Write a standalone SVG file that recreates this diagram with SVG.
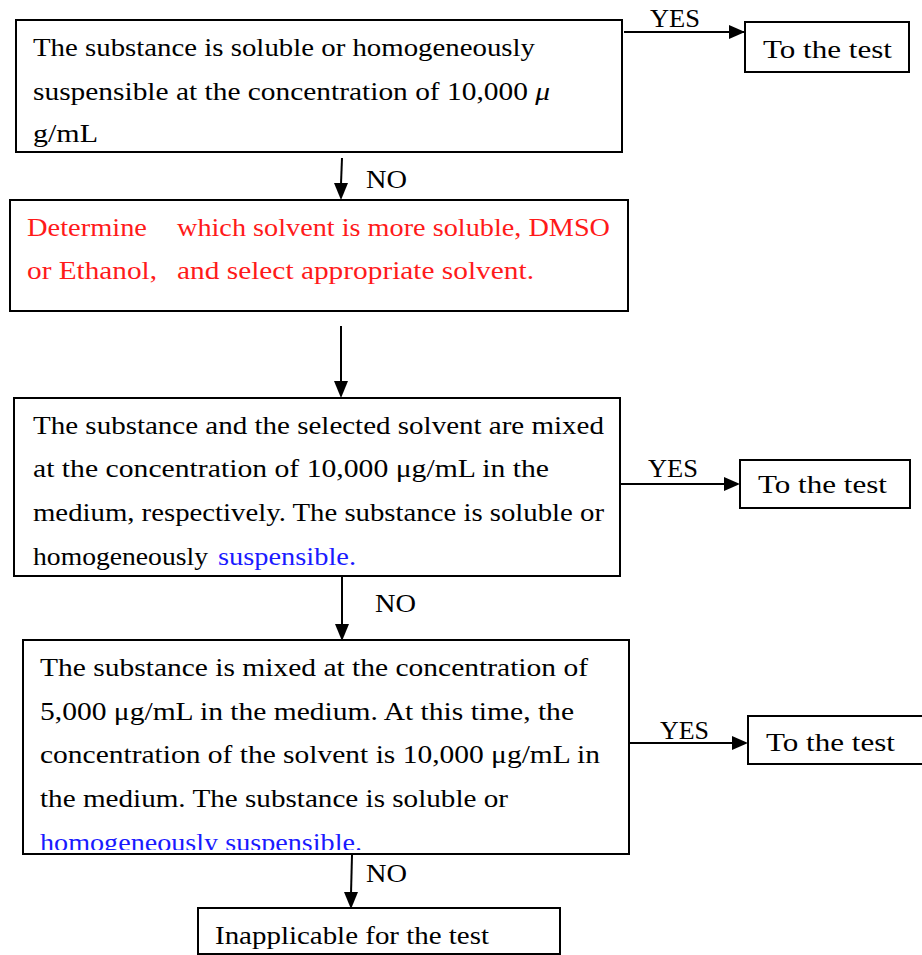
<svg xmlns="http://www.w3.org/2000/svg" width="922" height="955" viewBox="0 0 922 955">
<defs>
<style>
.box{fill:#fff;stroke:#000;stroke-width:2}
.t{font-family:"Liberation Serif",serif;font-size:26px;fill:#000}
.red{fill:#ff1a1a}
.blue{fill:#1a1aff}
.lbl{font-family:"Liberation Serif",serif;font-size:25px;fill:#000}
.c{stroke:#000;stroke-width:2;fill:none;marker-end:url(#ah)}
</style>
<marker id="ah" markerWidth="8" markerHeight="8" refX="8" refY="4" orient="auto" markerUnits="userSpaceOnUse" viewBox="0 0 8 8">
<path d="M0,0 L8,4 L0,8 Z" fill="#000"/>
</marker>
<clipPath id="clip4"><rect x="23" y="640" width="606" height="210"/></clipPath>
</defs>
<rect width="922" height="955" fill="#fff"/>

<g id="connectors">
<line class="c" x1="624" y1="32" x2="745" y2="32" style="marker-end:none"/>
<path d="M729,25 L745,32 L729,39 Z"/>
<line x1="342" y1="158" x2="341" y2="184" stroke="#000" stroke-width="2"/>
<path d="M334,183 L348,183 L341,200 Z"/>
<line x1="341" y1="326" x2="341" y2="382" stroke="#000" stroke-width="2"/>
<path d="M334,381 L348,381 L341,398 Z"/>
<line x1="621" y1="484" x2="726" y2="484" stroke="#000" stroke-width="2"/>
<path d="M724,477 L740,484 L724,491 Z"/>
<line x1="342" y1="576" x2="342" y2="626" stroke="#000" stroke-width="2"/>
<path d="M335,624 L349,624 L342,641 Z"/>
<line x1="629" y1="743" x2="734" y2="743" stroke="#000" stroke-width="2"/>
<path d="M732,736 L748,743 L732,750 Z"/>
<line x1="352" y1="855" x2="351" y2="894" stroke="#000" stroke-width="2"/>
<path d="M344,892 L358,892 L351,909 Z"/>
<text class="lbl" x="650" y="27" textLength="50" lengthAdjust="spacingAndGlyphs">YES</text>
<text class="lbl" x="366" y="188" textLength="41" lengthAdjust="spacingAndGlyphs">NO</text>
<text class="lbl" x="648" y="477" textLength="50" lengthAdjust="spacingAndGlyphs">YES</text>
<text class="lbl" x="375" y="612" textLength="41" lengthAdjust="spacingAndGlyphs">NO</text>
<text class="lbl" x="660" y="739" textLength="49" lengthAdjust="spacingAndGlyphs">YES</text>
<text class="lbl" x="366" y="882" textLength="41" lengthAdjust="spacingAndGlyphs">NO</text>
</g>

<g id="n1">
<rect class="box" x="16" y="20" width="606" height="132"/>
<text class="t" x="33" y="56" textLength="502" lengthAdjust="spacingAndGlyphs">The substance is soluble or homogeneously</text>
<text class="t" x="33" y="100" textLength="517" lengthAdjust="spacingAndGlyphs">suspensible at the concentration of 10,000 <tspan font-style="italic">μ</tspan></text>
<text class="t" x="33" y="142" textLength="65" lengthAdjust="spacingAndGlyphs">g/mL</text>
</g>

<g id="t1">
<rect class="box" x="745" y="22" width="164" height="50"/>
<text class="t" x="763" y="58" textLength="129" lengthAdjust="spacingAndGlyphs">To the test</text>
</g>

<g id="n2">
<rect class="box" x="10" y="200" width="618" height="111"/>
<text class="t red" x="27" y="236" textLength="120" lengthAdjust="spacingAndGlyphs">Determine</text>
<text class="t red" x="177" y="236" textLength="433" lengthAdjust="spacingAndGlyphs">which solvent is more soluble, DMSO</text>
<text class="t red" x="27" y="279" textLength="130" lengthAdjust="spacingAndGlyphs">or Ethanol,</text>
<text class="t red" x="177" y="279" textLength="357" lengthAdjust="spacingAndGlyphs">and select appropriate solvent.</text>
</g>

<g id="n3">
<rect class="box" x="14" y="398" width="606" height="178"/>
<text class="t" x="33" y="434" textLength="571" lengthAdjust="spacingAndGlyphs">The substance and the selected solvent are mixed</text>
<text class="t" x="33" y="477" textLength="516" lengthAdjust="spacingAndGlyphs">at the concentration of 10,000 μg/mL in the</text>
<text class="t" x="33" y="521" textLength="571" lengthAdjust="spacingAndGlyphs">medium, respectively. The substance is soluble or</text>
<text class="t" x="33" y="565" textLength="175" lengthAdjust="spacingAndGlyphs">homogeneously</text>
<text class="t blue" x="218" y="565" textLength="138" lengthAdjust="spacingAndGlyphs">suspensible.</text>
</g>

<g id="t2">
<rect class="box" x="740" y="460" width="170" height="48"/>
<text class="t" x="758" y="493" textLength="129" lengthAdjust="spacingAndGlyphs">To the test</text>
</g>

<g id="n4">
<rect class="box" x="23" y="640" width="606" height="214"/>
<text class="t" x="40" y="676" textLength="548" lengthAdjust="spacingAndGlyphs">The substance is mixed at the concentration of</text>
<text class="t" x="40" y="720" textLength="534" lengthAdjust="spacingAndGlyphs">5,000 μg/mL in the medium. At this time, the</text>
<text class="t" x="40" y="763" textLength="560" lengthAdjust="spacingAndGlyphs">concentration of the solvent is 10,000 μg/mL in</text>
<text class="t" x="40" y="807" textLength="468" lengthAdjust="spacingAndGlyphs">the medium. The substance is soluble or</text>
<text class="t blue" x="40" y="851" textLength="322" lengthAdjust="spacingAndGlyphs" clip-path="url(#clip4)">homogeneously suspensible.</text>
</g>

<g id="t3">
<rect class="box" x="748" y="716" width="180" height="48"/>
<text class="t" x="766" y="751" textLength="129" lengthAdjust="spacingAndGlyphs">To the test</text>
</g>

<g id="n5">
<rect class="box" x="198" y="908" width="362" height="46"/>
<text class="t" x="215" y="944" textLength="274" lengthAdjust="spacingAndGlyphs">Inapplicable for the test</text>
</g>
</svg>
